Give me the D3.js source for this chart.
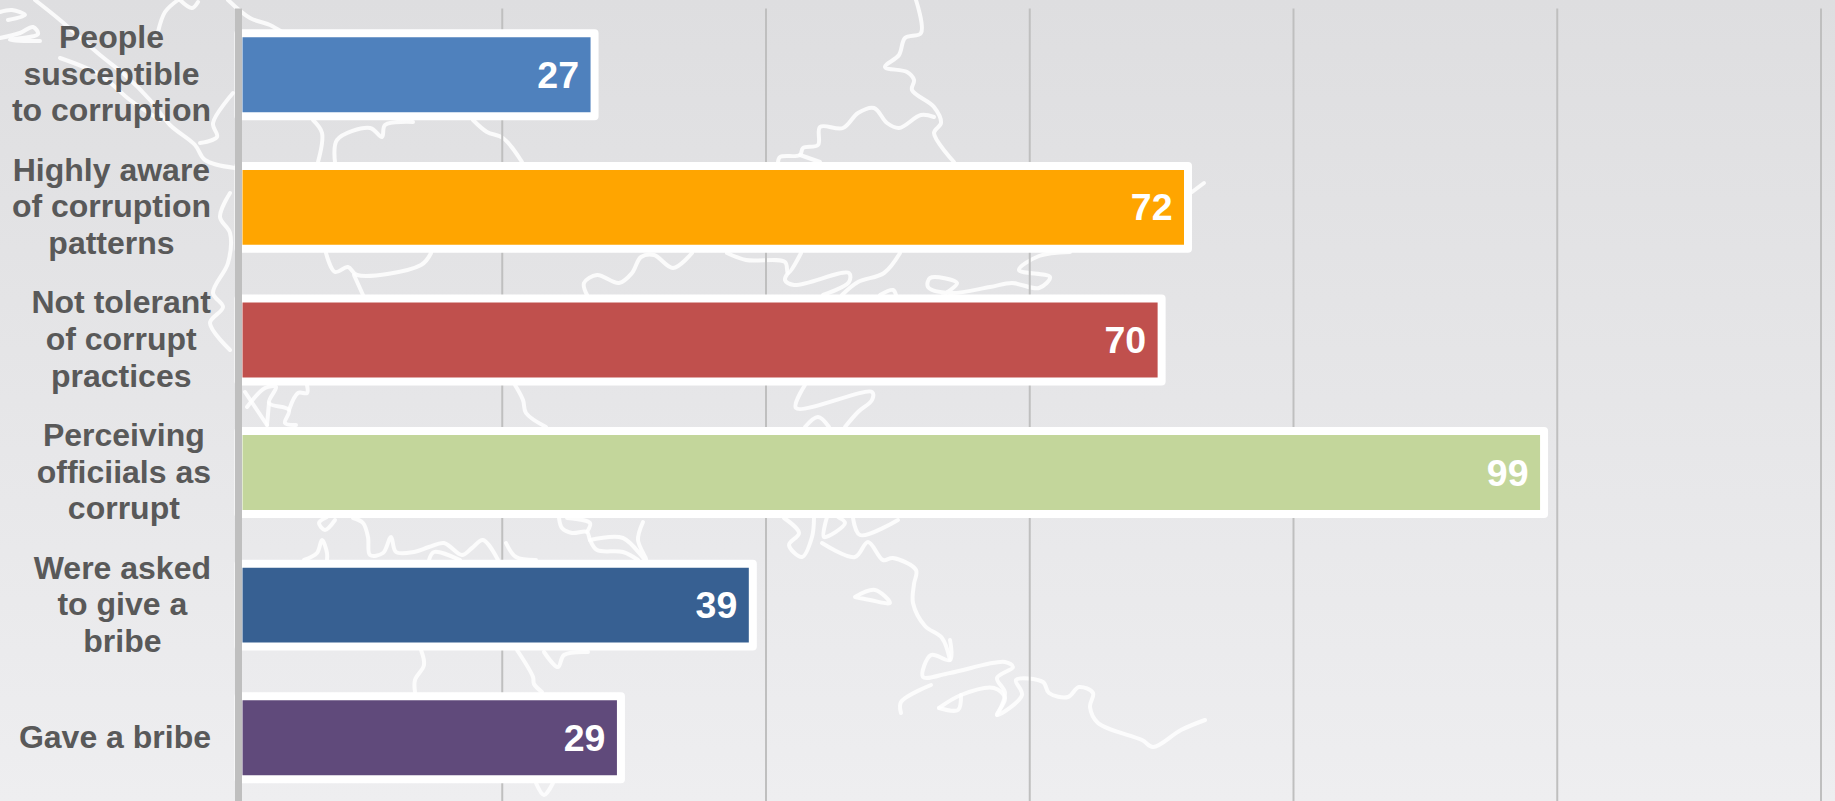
<!DOCTYPE html>
<html><head><meta charset="utf-8">
<script src="https://cdn.jsdelivr.net/npm/d3@7"></script>
<style>html,body{margin:0;padding:0;overflow:hidden;background:#e6e6e8}svg{display:block}</style>
</head><body><svg id="c" width="1835" height="801"></svg>
<script>
const categories = [
  ["People","susceptible","to corruption"],
  ["Highly aware","of corruption","patterns"],
  ["Not tolerant","of corrupt","practices"],
  ["Perceiving","officiials as","corrupt"],
  ["Were asked","to give a","bribe"],
  ["Gave a bribe"]
];
const values = [27,72,70,99,39,29];
const colors = ["#4f81bd","#ffa500","#c0504d","#c3d69b","#376092","#604a7b"];
const gridTicks = [0,20,40,60,80,100,120];

// Decorative map outline behind the chart
const backdrop = [
 [[0,12],[12,10],[25,15],[8,20]],[[0,38],[20,33],[33,27],[38,34],[10,40],[40,41]],
 [[35,0],[60,20],[100,55],[125,75],[150,100],[170,125],[195,145],[205,160],[235,168]],
 [[60,58],[100,75],[130,100],[160,120]],[[178,0],[165,12],[158,32]],[[180,0],[192,8],[198,2]],
 [[233,93],[213,123],[217,137],[200,143]],[[228,0],[250,18],[270,25],[282,32]],
 [[230,193],[220,217],[230,233],[228,263],[213,293],[223,307],[210,323],[230,350]],
 [[313,120],[322,133],[318,162]],[[335,162],[337,140],[370,128],[382,137],[385,125],[413,122]],
 [[473,120],[487,132],[503,138],[522,162]],
 [[916,0],[921,33],[905,38],[899,55],[885,67],[907,72],[914,80],[912,90],[934,107],[941,123],[934,133],[954,162]],
 [[934,117],[921,115],[899,128],[887,123],[874,108],[858,113],[843,128],[820,127],[818,145],[803,148],[800,155],[780,157],[778,162]],
 [[800,155],[820,162]],[[1192,192],[1204,183]],
 [[326,253],[335,272],[348,267],[357,275],[421,265],[431,253]],[[354,275],[363,295]],
 [[587,295],[584,283],[597,275],[619,283],[632,273],[641,257],[654,255],[673,268],[692,253]],
 [[727,253],[746,260],[785,262],[788,273],[801,253]],[[788,273],[785,280],[794,285],[849,273],[849,282],[823,295]],
 [[842,295],[858,282],[884,273],[900,253]],[[880,295],[893,290],[896,295]],
 [[1070,252],[1039,256],[1019,270],[1050,277],[1039,288],[1012,283],[990,287],[950,293],[928,287],[930,278],[957,283],[943,295]],
 [[245,392],[267,425]],[[247,407],[265,388],[276,387],[269,403],[289,410],[285,423],[296,425]],[[289,410],[298,393],[307,393],[307,385]],[[269,403],[267,425]],
 [[515,385],[523,400],[526,413],[546,427]],
 [[805,385],[796,408],[872,392],[872,400],[858,412],[845,427]],[[805,427],[818,417],[829,427]],
 [[327,517],[319,523],[325,530],[335,520]],[[304,560],[317,553],[322,540],[327,553],[327,560]],
 [[353,518],[363,523],[368,537],[370,555],[383,553],[391,537],[396,552],[414,552],[429,547],[444,543],[462,555],[472,548],[483,540],[498,560]],
 [[429,560],[434,552],[460,560]],[[506,543],[516,557],[536,560]],
 [[559,518],[562,528],[572,533],[587,532],[590,540],[597,550],[623,552],[638,560]],[[567,518],[590,523],[587,532]],
 [[590,540],[623,538],[646,560],[638,540],[643,522]],
 [[784,518],[799,533],[789,545],[802,557],[812,537],[814,518]],[[827,517],[824,537],[845,523],[838,517]],
 [[853,518],[860,535],[898,520]],
 [[822,543],[855,557],[868,542],[883,560],[893,558],[916,570],[914,584],[913,603],[925,626],[942,638],[950,660]],
 [[855,597],[875,590],[890,603],[870,600],[855,597]],
 [[421,650],[424,665],[415,680],[415,692]],[[517,650],[533,677],[534,684],[542,692]],
 [[544,652],[558,667],[564,655],[588,652]],[[536,783],[544,795],[553,783]],
 [[950,640],[950,660],[931,655],[923,677],[950,673],[1005,662],[1013,667],[997,678],[1005,693],[997,715]],
 [[931,685],[901,702],[901,713]],
 [[939,708],[961,695],[994,688],[1005,698],[997,715],[1022,695],[1016,680],[1043,682],[1049,693],[1068,697],[1079,687],[1093,693],[1090,707],[1098,723],[1142,740],[1153,747],[1181,730],[1205,720]],
 [[961,695],[958,710],[939,708]]
];

const W = 1835, H = 801;
const svg = d3.select("#c");

const defs = svg.append("defs");
const grad = defs.append("linearGradient").attr("id","bg").attr("x1",0).attr("x2",0).attr("y1",0).attr("y2",1);
grad.append("stop").attr("offset","0%").attr("stop-color","#dedee0");
grad.append("stop").attr("offset","100%").attr("stop-color","#eeeef0");
defs.append("filter").attr("id","soft").append("feGaussianBlur").attr("stdDeviation",0.6);
svg.append("rect").attr("width",W).attr("height",H).attr("fill","url(#bg)");

const mapLine = d3.line().curve(d3.curveCatmullRom.alpha(0.5));
svg.append("g").attr("fill","none").attr("stroke","#fff").attr("stroke-width",4)
  .attr("stroke-opacity",0.85).attr("stroke-linejoin","round").attr("stroke-linecap","round")
  .attr("filter","url(#soft)")
  .selectAll("path").data(backdrop).join("path").attr("d",mapLine);

const x = d3.scaleLinear().domain([0,120]).range([238.5,1821]);
const y = d3.scaleBand().domain(d3.range(values.length)).range([8.5,804]).paddingInner(0.375).paddingOuter(0.1875);

// vertical gridlines
const grid = svg.append("g").attr("transform","translate(0,8.5)")
  .call(d3.axisBottom(x).tickValues(gridTicks.slice(1)).tickSize(H).tickFormat("").offset(0));
grid.select(".domain").remove();
grid.selectAll("line").attr("stroke","#bfbfbf").attr("stroke-width",2);

// bars
svg.append("g").selectAll("rect").data(values).join("rect")
  .attr("x",x(0)).attr("y",(d,i)=>y(i))
  .attr("width",d=>x(d)-x(0)).attr("height",y.bandwidth())
  .attr("fill",(d,i)=>colors[i]).attr("stroke","#fff").attr("stroke-width",8)
  .attr("stroke-linejoin","round");

// category axis line
svg.append("line").attr("x1",x(0)).attr("x2",x(0)).attr("y1",8.5).attr("y2",H)
  .attr("stroke","#bfbfbf").attr("stroke-width",7);

// value labels
svg.append("g").selectAll("text").data(values).join("text")
  .attr("x",d=>x(d)-15.5).attr("y",(d,i)=>y(i)+y.bandwidth()/2+13)
  .attr("text-anchor","end").attr("fill","#fff")
  .style("font","bold 37.5px 'Liberation Sans',Arial,sans-serif").text(d=>d);

// category labels: lines centred in a block whose right edge is fixed
const lineH = 36.6, labelRight = 211;
const labels = svg.append("g").selectAll("g").data(categories).join("g");
labels.each(function(lines,i){
  const g = d3.select(this);
  const cy = y(i)+y.bandwidth()/2;
  const ts = g.selectAll("text").data(lines).join("text")
    .attr("y",(d,k)=>cy+(k-(lines.length-1)/2)*lineH+10)
    .attr("text-anchor","middle").attr("fill","#595959")
    .style("font","bold 32px 'Liberation Sans',Arial,sans-serif").text(d=>d);
  let maxW = 0; ts.each(function(){maxW=Math.max(maxW,this.getComputedTextLength());});
  ts.attr("x",labelRight-maxW/2);
});
</script></body></html>
